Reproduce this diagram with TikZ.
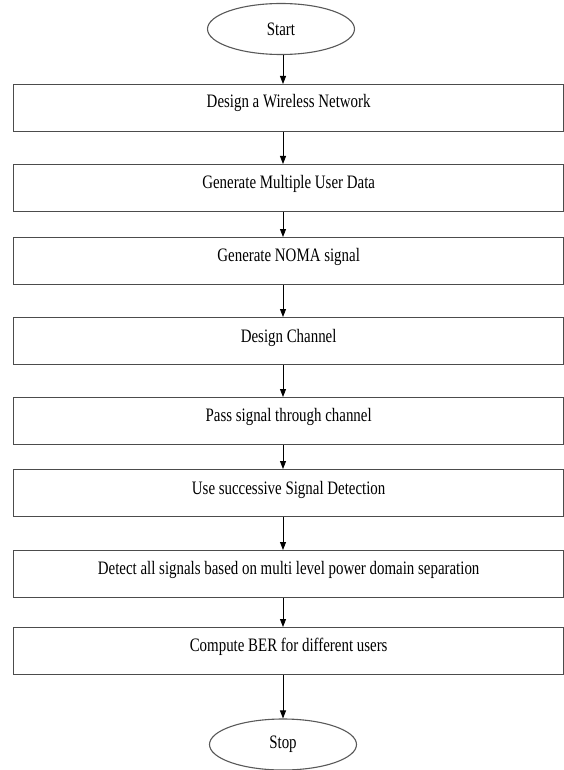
\documentclass[tikz,border=0pt]{standalone}
\usepackage{fontspec}
\setmainfont{Liberation Serif}
\usetikzlibrary{shapes.geometric,arrows.meta}
\newcommand{\sqz}[1]{\scalebox{0.785}[1]{#1}}
\begin{document}
\begin{tikzpicture}[x=1pt,y=-1pt,
  box/.style={draw=black!70, line width=1.3pt, minimum width=550pt, minimum height=47pt, inner sep=0pt, anchor=north west},
  term/.style={ellipse, draw=black!65, line width=1.1pt, minimum width=147pt, minimum height=51pt, inner sep=0pt, font=\fontsize{19}{22}\selectfont},
  lbl/.style={font=\fontsize{19}{22}\selectfont, inner sep=0pt, anchor=base},
  arr/.style={-{Triangle[length=8pt,width=6pt]}, line width=0.9pt, black}]
\fill[white] (0,0) rectangle (564,770);
\useasboundingbox (0,0) rectangle (564,770);
\node[term] (start) at (281,29) {\sqz{Start}};
\node[box] (b1) at (13,84) {};
\node[box] (b2) at (13,164) {};
\node[box] (b3) at (13,237) {};
\node[box] (b4) at (13,317) {};
\node[box] (b5) at (13,397) {};
\node[box] (b6) at (13,469) {};
\node[box] (b7) at (13,550) {};
\node[box] (b8) at (13,627) {};
\node[term] (stop) at (283,744.5) {\sqz{Stop}};
\node[lbl] (t1) at ([yshift=-24pt]b1.north) {\sqz{Design a Wireless Network}};
\node[lbl] (t2) at ([yshift=-24pt]b2.north) {\sqz{Generate Multiple User Data}};
\node[lbl] (t3) at ([yshift=-24pt]b3.north) {\sqz{Generate NOMA signal}};
\node[lbl] (t4) at ([yshift=-25pt]b4.north) {\sqz{Design Channel}};
\node[lbl] (t5) at ([yshift=-24pt]b5.north) {\sqz{Pass signal through channel}};
\node[lbl] (t6) at ([yshift=-25pt]b6.north) {\sqz{Use successive Signal Detection}};
\node[lbl] (t7) at ([yshift=-24pt]b7.north) {\sqz{Detect all signals based on multi level power domain separation}};
\node[lbl] (t8) at ([yshift=-24pt]b8.north) {\sqz{Compute BER for different users}};
\draw[arr] (start.south -| stop.north) -- (b1.north -| stop.north);
\draw[arr] (b1.south -| stop.north) -- (b2.north -| stop.north);
\draw[arr] (b2.south -| stop.north) -- (b3.north -| stop.north);
\draw[arr] (b3.south -| stop.north) -- (b4.north -| stop.north);
\draw[arr] (b4.south -| stop.north) -- (b5.north -| stop.north);
\draw[arr] (b5.south -| stop.north) -- (b6.north -| stop.north);
\draw[arr] (b6.south -| stop.north) -- (b7.north -| stop.north);
\draw[arr] (b7.south -| stop.north) -- (b8.north -| stop.north);
\draw[arr] (b8.south -| stop.north) -- (stop.north);
\end{tikzpicture}
\end{document}
